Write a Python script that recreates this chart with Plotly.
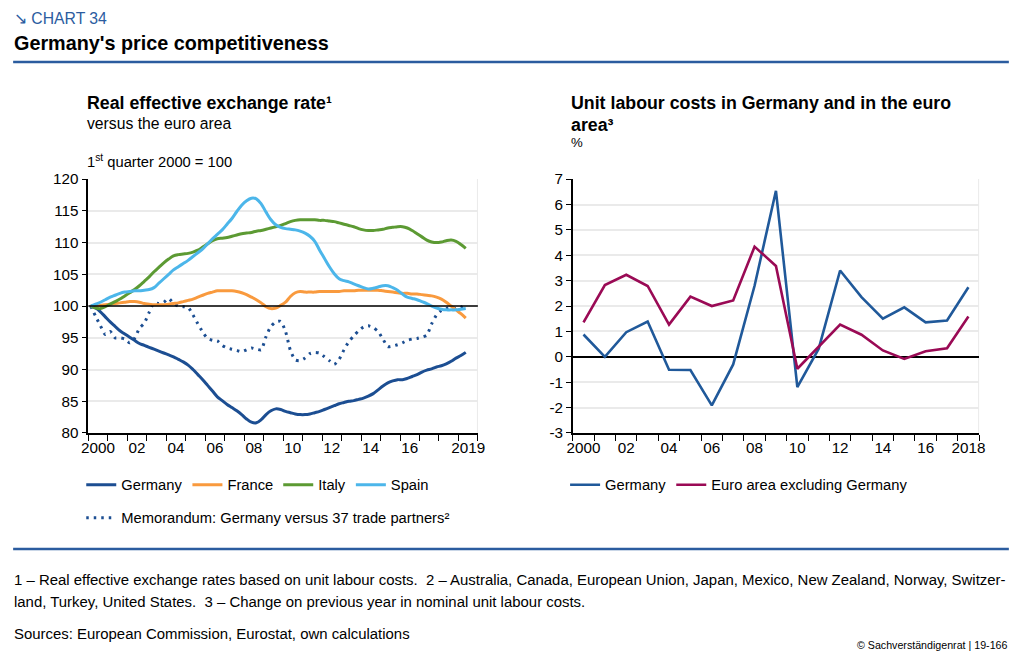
import plotly.graph_objects as go

# Figure size; the captured page shows the figure offset by the body margin and
# slightly scaled, so target positions (in picture pixels) are mapped through that.
W, H = 1028, 659
BODY_M = 8
SX, SY = 1028 / 1044, 659 / 675

# ---------------- Data: left chart (quarterly, 2000Q1 .. 2019Q2) ----------------
quarters = [f"{y}Q{q}" for y in range(2000, 2020) for q in range(1, 5)][:78]

germany_reer = [
    100.0, 99.7, 99.1, 98.3, 97.5, 96.8, 96.1, 95.6, 95.1, 94.6, 94.1, 93.8,
    93.5, 93.2, 92.9, 92.6, 92.3, 92.0, 91.6, 91.2, 90.7, 90.0, 89.2, 88.4,
    87.5, 86.6, 85.7, 85.1, 84.5, 84.0, 83.5, 82.9, 82.2, 81.7, 81.6, 82.1,
    82.9, 83.5, 83.8, 83.7, 83.4, 83.2, 83.0, 82.9, 82.9, 83.0, 83.2, 83.4,
    83.7, 84.0, 84.3, 84.6, 84.8, 85.0, 85.1, 85.3, 85.5, 85.8, 86.2, 86.8,
    87.4, 87.9, 88.2, 88.4, 88.4, 88.6, 88.9, 89.2, 89.6, 89.9, 90.1, 90.4,
    90.6, 90.9, 91.3, 91.8, 92.2, 92.7]

france_reer = [
    100.0, 100.0, 100.1, 100.2, 100.3, 100.4, 100.5, 100.6, 100.7, 100.7, 100.6, 100.4,
    100.3, 100.2, 100.2, 100.2, 100.3, 100.4, 100.5, 100.7, 100.9, 101.1, 101.4, 101.7,
    102.0, 102.2, 102.4, 102.4, 102.4, 102.4, 102.3, 102.1, 101.8, 101.4, 101.0, 100.5,
    99.9, 99.6, 99.7, 100.1, 100.6, 101.5, 102.1, 102.3, 102.2, 102.2, 102.2, 102.3,
    102.3, 102.3, 102.3, 102.3, 102.4, 102.4, 102.4, 102.5, 102.5, 102.5, 102.5, 102.5,
    102.4, 102.3, 102.2, 102.1, 102.0, 102.0, 101.9, 101.9, 101.8, 101.7, 101.6, 101.4,
    101.1, 100.6, 100.0, 99.4, 98.8, 98.1]

italy_reer = [
    100.0, 99.7, 99.6, 99.9, 100.3, 100.7, 101.1, 101.6, 102.1, 102.6, 103.2, 103.9,
    104.6, 105.4, 106.1, 106.8, 107.4, 107.9, 108.1, 108.2, 108.3, 108.5, 108.8, 109.3,
    109.8, 110.3, 110.6, 110.7, 110.8, 111.0, 111.2, 111.4, 111.5, 111.6, 111.8, 111.9,
    112.1, 112.3, 112.5, 112.7, 113.0, 113.3, 113.5, 113.6, 113.6, 113.6, 113.6, 113.5,
    113.5, 113.4, 113.3, 113.1, 112.9, 112.7, 112.5, 112.2, 112.0, 111.9, 111.9, 112.0,
    112.1, 112.3, 112.4, 112.5, 112.5, 112.3, 111.9, 111.4, 110.9, 110.4, 110.1, 110.0,
    110.1, 110.3, 110.4, 110.2, 109.7, 109.1]

spain_reer = [
    100.0, 100.3, 100.6, 101.0, 101.4, 101.7, 102.0, 102.2, 102.3, 102.4, 102.4, 102.5,
    102.6, 102.9, 103.6, 104.3, 105.0, 105.7, 106.2, 106.7, 107.2, 107.8, 108.4, 109.0,
    109.8, 110.6, 111.3, 112.0, 112.9, 113.8, 114.9, 115.9, 116.6, 117.0, 116.9, 116.1,
    114.8, 113.6, 112.8, 112.4, 112.2, 112.1, 112.0, 111.8, 111.5, 111.0, 110.2, 108.8,
    107.5, 106.2, 105.1, 104.3, 104.0, 103.8, 103.5, 103.2, 102.9, 102.7, 102.8, 103.0,
    103.2, 103.2, 102.9, 102.5, 101.9, 101.4, 101.2, 101.0, 100.7, 100.4, 100.0, 99.7,
    99.5, 99.4, 99.4, 99.4, 99.5, 99.6]

memo_reer = [
    100.0, 98.4, 96.9, 95.5, 96.0, 95.0, 95.0, 94.8, 94.2, 94.9, 96.5, 97.3,
    99.0, 100.5, 100.4, 100.6, 101.2, 100.4, 100.0, 99.9, 99.8, 98.6, 97.2, 95.9,
    94.9, 94.6, 94.5, 93.8, 93.4, 93.2, 93.0, 92.8, 93.1, 93.4, 93.2, 93.1,
    95.2, 96.8, 97.5, 97.6, 96.0, 93.0, 91.5, 91.4, 91.8, 92.5, 92.7, 92.6,
    92.0, 91.4, 90.8, 91.6, 93.1, 94.4, 95.3, 96.1, 96.7, 96.9, 96.6, 96.0,
    94.8, 93.6, 93.7, 93.9, 94.2, 94.6, 94.8, 94.9, 95.1, 95.4, 97.2, 98.6,
    99.3, 99.6, 99.8, 99.6, 99.8, 100.3]

left_tick_years = [2000, 2002, 2004, 2006, 2008, 2010, 2012, 2014, 2016, 2019]
left_tick_text = ["2000", "02", "04", "06", "08", "10", "12", "14", "16", "2019"]

# ---------------- Data: right chart (annual, 2000 .. 2018) ----------------
ulc_years = list(range(2000, 2019))
ulc_germany = [0.88, 0.0, 0.97, 1.39, -0.51, -0.52, -1.91, -0.3, 2.8, 6.54,
               -1.19, 0.32, 3.4, 2.35, 1.5, 1.95, 1.36, 1.43, 2.74]
ulc_euro_ex_de = [1.36, 2.83, 3.23, 2.79, 1.27, 2.37, 2.0, 2.22, 4.34, 3.58,
                  -0.47, 0.41, 1.27, 0.87, 0.25, -0.08, 0.22, 0.34, 1.59]
right_tick_years = [2000, 2002, 2004, 2006, 2008, 2010, 2012, 2014, 2016, 2018]
right_tick_text = ["2000", "02", "04", "06", "08", "10", "12", "14", "16", "2018"]

# ---------------- Styles ----------------
C_DE = "#1C4E92"
C_FR = "#F99A3E"
C_IT = "#5C9A33"
C_ES = "#4CB6EA"
C_DE_R = "#20599A"
C_EA = "#9A0A55"
C_RULE = "#2B5C9F"
FONT = "Liberation Sans, Arial, sans-serif"
GRID = "#EAEAEA"


def fs(s):
    """picture font size -> figure font size"""
    return round(s / SX, 2)


def px(x):
    """picture pixel x -> paper fraction"""
    return (x / SX - BODY_M) / W


def py(y):
    """picture pixel y (from top) -> paper fraction"""
    return 1 - (y / SY - BODY_M) / H


# quarter position on a year axis (centre of each quarter)
xq = [int(s[:4]) + (int(s[-1]) - 0.5) / 4 for s in quarters]

fig = go.Figure()

left_series = [
    ("Germany", germany_reer, C_DE),
    ("France", france_reer, C_FR),
    ("Italy", italy_reer, C_IT),
    ("Spain", spain_reer, C_ES),
]
fig.add_trace(go.Scatter(
    x=xq, y=memo_reer, mode="lines", name="Memorandum: Germany versus 37 trade partners²",
    line=dict(color=C_DE, width=3, dash="2.5px,5px", shape="spline", smoothing=0.6),
    xaxis="x", yaxis="y", legend="legend2"))
for name, vals, col in left_series:
    fig.add_trace(go.Scatter(
        x=xq, y=vals, mode="lines", name=name,
        line=dict(color=col, width=3, shape="spline", smoothing=1.0),
        xaxis="x", yaxis="y", legend="legend"))

fig.add_trace(go.Scatter(
    x=ulc_years, y=ulc_germany, mode="lines", name="Germany",
    line=dict(color=C_DE_R, width=2.6), xaxis="x2", yaxis="y2", legend="legend3"))
fig.add_trace(go.Scatter(
    x=ulc_years, y=ulc_euro_ex_de, mode="lines", name="Euro area excluding Germany",
    line=dict(color=C_EA, width=2.6), xaxis="x2", yaxis="y2", legend="legend3"))

y_dom = [py(432.7), py(178.3)]
tickfont = dict(family=FONT, size=fs(15), color="#000000")
legfont = dict(family=FONT, size=fs(14.5), color="#000000")

fig.update_layout(
    width=W, height=H, margin=dict(l=0, r=0, t=0, b=0),
    paper_bgcolor="white", plot_bgcolor="white",
    font=dict(family=FONT, color="#000000"),
    xaxis=dict(domain=[px(89), px(478)], range=[2000, 2020], anchor="y",
               tickvals=[v + 0.5 for v in left_tick_years], ticktext=left_tick_text,
               ticks="", showgrid=False, zeroline=False, showline=True,
               linecolor="black", linewidth=1.5, tickfont=tickfont,
               minor=dict(tickvals=list(range(2000, 2021)), ticks="outside",
                          ticklen=6, tickcolor="black", tickwidth=1.2, showgrid=False)),
    yaxis=dict(domain=y_dom, range=[80, 120], dtick=5, anchor="x",
               showgrid=True, gridcolor=GRID, gridwidth=2, zeroline=False,
               showline=True, linecolor="black", linewidth=1.5,
               ticks="outside", ticklen=5, tickcolor="black", tickfont=tickfont),
    xaxis2=dict(domain=[px(572.7), px(978.3)], range=[1999.5, 2018.5], anchor="y2",
                tickvals=right_tick_years, ticktext=right_tick_text,
                ticks="", showgrid=False, zeroline=False, showline=True,
                linecolor="black", linewidth=1.5, tickfont=tickfont,
                minor=dict(tickvals=[v - 0.5 for v in ulc_years] + [2018.5], ticks="outside",
                           ticklen=6, tickcolor="black", tickwidth=1.2, showgrid=False)),
    yaxis2=dict(domain=y_dom, range=[-3, 7], anchor="x2",
                tickvals=list(range(-3, 8)), ticktext=[str(v) for v in range(-3, 8)],
                showgrid=True, gridcolor=GRID, gridwidth=2,
                zeroline=True, zerolinecolor="black", zerolinewidth=1.5,
                showline=True, linecolor="black", linewidth=1.5,
                ticks="outside", ticklen=5, tickcolor="black", tickfont=tickfont),
    legend=dict(orientation="h", x=px(82), xanchor="left", y=py(485), yanchor="middle",
                font=legfont, bgcolor="rgba(0,0,0,0)", itemclick=False, traceorder="normal"),
    legend2=dict(orientation="h", x=px(82), xanchor="left", y=py(518), yanchor="middle",
                 font=legfont, bgcolor="rgba(0,0,0,0)", itemclick=False),
    legend3=dict(orientation="h", x=px(565), xanchor="left", y=py(485), yanchor="middle",
                 font=legfont, bgcolor="rgba(0,0,0,0)", itemclick=False),
    showlegend=True,
)

# reference lines and frame
fig.add_shape(type="line", xref="x", yref="y", x0=2000, x1=2020, y0=100, y1=100,
              line=dict(color="black", width=1.5))
fig.add_shape(type="line", xref="x", yref="y", x0=2020, x1=2020, y0=80, y1=120,
              line=dict(color=GRID, width=2), layer="below")
fig.add_shape(type="line", xref="x2", yref="y2", x0=2018.5, x1=2018.5, y0=-3, y1=7,
              line=dict(color=GRID, width=2), layer="below")

# horizontal blue rules
fig.add_shape(type="line", xref="paper", yref="paper", x0=px(14), x1=px(1008),
              y0=py(61), y1=py(61), line=dict(color=C_RULE, width=2.5))
fig.add_shape(type="line", xref="paper", yref="paper", x0=px(14), x1=px(1008),
              y0=py(549), y1=py(549), line=dict(color=C_RULE, width=2.5))


def note(text, x, y, size, bold=False, color="#000000", xanchor="left", yanchor="middle"):
    if bold:
        text = f"<b>{text}</b>"
    fig.add_annotation(text=text, x=px(x), y=py(y), xref="paper", yref="paper",
                       xanchor=xanchor, yanchor=yanchor, showarrow=False, align="left",
                       font=dict(family=FONT, size=fs(size), color=color))


note("↘ CHART 34", 13, 17, 15.5, color=C_RULE)
note("Germany's price competitiveness", 13, 42, 19.5, bold=True)

note("Real effective exchange rate¹", 86, 102, 17.5, bold=True)
note("versus the euro area", 86, 123, 15.5)
note("1<sup>st</sup> quarter 2000 = 100", 86, 160, 14.5)

note("Unit labour costs in Germany and in the euro", 569, 102, 17.5, bold=True)
note("area³", 569, 124, 17.5, bold=True)
note("%", 569, 142, 13)

note("1 – Real effective exchange rates based on unit labour costs.  2 – Australia, Canada, "
     "European Union, Japan, Mexico, New Zealand, Norway, Switzer-", 13, 580, 14.7)
note("land, Turkey, United States.  3 – Change on previous year in nominal unit labour costs.",
     13, 602, 14.7)
note("Sources: European Commission, Eurostat, own calculations", 13, 634, 14.7)
note("© Sachverständigenrat | 19-166", 1008, 645, 10.5, xanchor="right")

fig.write_html("out.html")
